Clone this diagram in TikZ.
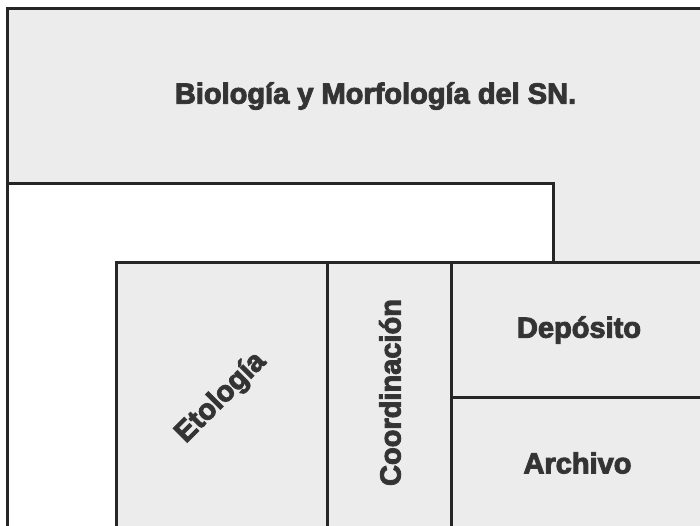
\documentclass[tikz,border=0pt]{standalone}
\usepackage{fontspec}
\setmainfont{Liberation Sans}
\definecolor{boxgrey}{HTML}{ECECEC}
\definecolor{linecol}{HTML}{262626}
\definecolor{txtcol}{HTML}{333333}
\newcommand{\outl}[1]{\special{pdf:code q 2 Tr 1.0 w 0.22 G}#1\special{pdf:code Q}}
\begin{document}
\begin{tikzpicture}[x=1pt,y=-1pt,
  region/.style={draw=linecol,line width=3pt,fill=boxgrey},
  hole/.style={draw=linecol,line width=3pt,fill=white},
  lbl/.style={text=txtcol,font=\fontsize{29}{34}\selectfont\bfseries,inner sep=0pt}]
\useasboundingbox (0,0) rectangle (700,525);
\clip (0,0) rectangle (700,525);
% outer region
\path[region] (7,8) rectangle (760,580);
% white gap
\path[hole] (7,183) rectangle (553,580);
% inner boxes
\path[region] (116,262) rectangle (327,580);
\path[region] (327,262) rectangle (451,580);
\path[region] (451,262) rectangle (760,397);
\path[region] (451,397) rectangle (760,580);
% labels
\node[lbl] (bio) at (375.5,96) {\outl{Biología y Morfología del SN.}};
\node[lbl,rotate=45] (eto) at (221,398) {\outl{Etología}};
\node[lbl,rotate=90] (coord) at (390,392.5) {\outl{Coordinación}};
\node[lbl] (dep) at (579,330) {\outl{Depósito}};
\node[lbl] (arch) at (577.5,463) {\outl{Archivo}};
\end{tikzpicture}
\end{document}
